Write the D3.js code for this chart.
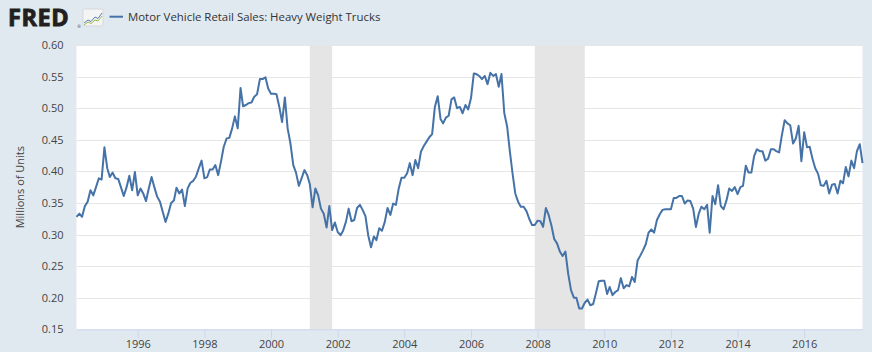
<!DOCTYPE html>
<html>
<head>
<meta charset="utf-8">
<script src="https://cdn.jsdelivr.net/npm/d3@7"></script>
<style>
  html, body { margin: 0; padding: 0; background: #e1e9f0; }
  svg { display: block; }
  text { font-family: "Open Sans", sans-serif; }
</style>
</head>
<body>
<script>
// ---- data ----
const seriesTitle = "Motor Vehicle Retail Sales: Heavy Weight Trucks";
const yAxisTitle = "Millions of Units";
const startMonth = "1994-03"; // first observation, monthly
const values = [
  0.328, 0.333, 0.328, 0.345, 0.352, 0.370, 0.362, 0.375, 0.389, 0.387,
  0.438, 0.405, 0.391, 0.398, 0.389, 0.388, 0.375, 0.361, 0.375, 0.393,
  0.370, 0.399, 0.362, 0.373, 0.365, 0.353, 0.373, 0.391, 0.375, 0.360,
  0.352, 0.336, 0.320, 0.333, 0.350, 0.354, 0.374, 0.365, 0.371, 0.345,
  0.373, 0.382, 0.385, 0.392, 0.405, 0.417, 0.389, 0.391, 0.403, 0.403,
  0.410, 0.394, 0.415, 0.439, 0.452, 0.453, 0.468, 0.487, 0.468, 0.532,
  0.503, 0.505, 0.508, 0.509, 0.518, 0.522, 0.546, 0.546, 0.549, 0.531,
  0.523, 0.523, 0.522, 0.502, 0.478, 0.517, 0.468, 0.444, 0.410, 0.398,
  0.377, 0.389, 0.402, 0.394, 0.380, 0.343, 0.373, 0.362, 0.341, 0.333,
  0.311, 0.345, 0.307, 0.319, 0.304, 0.299, 0.306, 0.320, 0.341, 0.321,
  0.323, 0.342, 0.347, 0.339, 0.329, 0.299, 0.280, 0.297, 0.291, 0.310,
  0.306, 0.320, 0.342, 0.331, 0.349, 0.347, 0.373, 0.390, 0.390, 0.397,
  0.413, 0.394, 0.418, 0.405, 0.431, 0.440, 0.447, 0.454, 0.459, 0.502,
  0.519, 0.483, 0.476, 0.485, 0.488, 0.514, 0.517, 0.500, 0.502, 0.492,
  0.505, 0.498, 0.516, 0.555, 0.554, 0.551, 0.546, 0.551, 0.538, 0.556,
  0.551, 0.554, 0.534, 0.554, 0.492, 0.471, 0.434, 0.397, 0.365, 0.352,
  0.344, 0.344, 0.337, 0.325, 0.315, 0.315, 0.322, 0.321, 0.312, 0.342,
  0.331, 0.314, 0.293, 0.286, 0.273, 0.266, 0.273, 0.238, 0.212, 0.200,
  0.200, 0.183, 0.183, 0.192, 0.197, 0.188, 0.190, 0.207, 0.226, 0.227,
  0.227, 0.206, 0.217, 0.204, 0.209, 0.212, 0.231, 0.215, 0.220, 0.218,
  0.233, 0.225, 0.259, 0.267, 0.275, 0.285, 0.303, 0.308, 0.303, 0.323,
  0.332, 0.339, 0.340, 0.340, 0.340, 0.358, 0.358, 0.361, 0.361, 0.349,
  0.354, 0.353, 0.341, 0.312, 0.333, 0.344, 0.340, 0.347, 0.303, 0.361,
  0.348, 0.378, 0.345, 0.340, 0.354, 0.373, 0.369, 0.375, 0.364, 0.375,
  0.377, 0.409, 0.398, 0.398, 0.424, 0.435, 0.432, 0.432, 0.417, 0.420,
  0.435, 0.435, 0.432, 0.430, 0.457, 0.481, 0.476, 0.473, 0.444, 0.452,
  0.472, 0.416, 0.462, 0.438, 0.439, 0.420, 0.405, 0.396, 0.378, 0.377,
  0.385, 0.365, 0.379, 0.380, 0.365, 0.385, 0.381, 0.407, 0.392, 0.417,
  0.405, 0.432, 0.443, 0.413
];
const recessionStarts = ["2001-03-01", "2007-12-01"];
const recessionEnds   = ["2001-11-01", "2009-06-01"];
const yTicks = [0.15, 0.20, 0.25, 0.30, 0.35, 0.40, 0.45, 0.50, 0.55, 0.60];
const xTickYears = [1996, 1998, 2000, 2002, 2004, 2006, 2008, 2010, 2012, 2014, 2016];

// ---- build ----
const W = 872, H = 352;
const plot = { left: 76.5, right: 862.5, top: 45, bottom: 329.3 };

const parseMonth = d3.timeParse("%Y-%m");
const parseDay = d3.timeParse("%Y-%m-%d");
const t0 = parseMonth(startMonth);
const data = values.map((v, i) => ({ date: d3.timeMonth.offset(t0, i), value: v }));

const x = d3.scaleTime()
  .domain([data[0].date, data[data.length - 1].date])
  .range([plot.left, plot.right]);
const y = d3.scaleLinear()
  .domain([0.15, 0.60])
  .range([plot.bottom, plot.top]);

const svg = d3.select("body").append("svg")
  .attr("width", W).attr("height", H);

svg.append("rect").attr("width", W).attr("height", H).attr("fill", "#e1e9f0");

// plot background
svg.append("rect")
  .attr("x", plot.left).attr("y", plot.top)
  .attr("width", plot.right - plot.left).attr("height", plot.bottom - plot.top)
  .attr("fill", "#ffffff");

// gridlines
svg.append("g").selectAll("line")
  .data(yTicks.filter(t => t > 0.15))
  .join("line")
  .attr("x1", plot.left).attr("x2", plot.right)
  .attr("y1", d => Math.round(y(d)) + 0.5).attr("y2", d => Math.round(y(d)) + 0.5)
  .attr("stroke", "#e6e6e6").attr("stroke-width", 1);

// recession bands
svg.append("g").selectAll("rect")
  .data(recessionStarts.map((s, i) => ({ s: parseDay(s), e: parseDay(recessionEnds[i]) })))
  .join("rect")
  .attr("x", d => x(d.s)).attr("width", d => x(d.e) - x(d.s))
  .attr("y", plot.top).attr("height", plot.bottom - plot.top)
  .attr("fill", "#e5e5e5");

// x axis
const xAxis = d3.axisBottom(x)
  .tickValues(xTickYears.map(yr => new Date(yr, 0, 1)))
  .tickFormat(d3.timeFormat("%Y"))
  .tickSize(9).tickPadding(2).tickSizeOuter(0);
const gx = svg.append("g")
  .attr("transform", `translate(0,${plot.bottom})`)
  .call(xAxis);
gx.select(".domain").attr("stroke", "#ccd6eb");
gx.selectAll(".tick line").attr("stroke", "#ccd6eb");
gx.selectAll(".tick text")
  .attr("fill", "#444").attr("font-size", "11px")
  .attr("font-family", "Open Sans, sans-serif");

// y axis labels
const yAxis = d3.axisLeft(y)
  .tickValues(yTicks)
  .tickFormat(d3.format(".2f"))
  .tickSize(0).tickPadding(13);
const gy = svg.append("g")
  .attr("transform", `translate(${plot.left},0)`)
  .call(yAxis);
gy.select(".domain").remove();
gy.selectAll(".tick text")
  .attr("fill", "#444").attr("font-size", "11px")
  .attr("font-family", "Open Sans, sans-serif");

// y axis title
svg.append("text")
  .attr("transform", `translate(24,${(plot.top + plot.bottom) / 2}) rotate(-90)`)
  .attr("text-anchor", "middle")
  .attr("fill", "#444").attr("font-size", "11px")
  .text(yAxisTitle);

// series line
const line = d3.line().x(d => x(d.date)).y(d => y(d.value));
svg.append("path")
  .datum(data)
  .attr("d", line)
  .attr("fill", "none")
  .attr("stroke", "#4572a7")
  .attr("stroke-width", 2)
  .attr("stroke-linejoin", "round");

// header: FRED logo
const logo = svg.append("g");
logo.append("text")
  .attr("x", 8).attr("y", 26)
  .attr("font-family", "Liberation Sans, Arial, sans-serif")
  .attr("font-weight", "bold").attr("font-size", "23.5px")
  .attr("letter-spacing", "0.6")
  .attr("fill", "#231f20")
  .style("stroke", "#231f20").style("stroke-width", "0.9px")
  .text("FRED");
logo.append("text")
  .attr("x", 77.5).attr("y", 28)
  .attr("font-size", "4px").attr("fill", "#231f20")
  .text("®");
// small chart icon
const icon = logo.append("g").attr("transform", "translate(83,9)");
icon.append("rect").attr("width", 20).attr("height", 17).attr("rx", 1.5)
  .attr("fill", "#f4f4f4").attr("stroke", "#c9c9c9").attr("stroke-width", 0.6);
icon.append("path").attr("d", "M1,14 L5,11 L8,12.5 L12,8 L15,9.5 L19,4")
  .attr("fill", "none").attr("stroke", "#4572a7").attr("stroke-width", 0.9);
icon.append("path").attr("d", "M1,16 L5,13 L8,14.5 L12,11 L15,12 L19,7")
  .attr("fill", "none").attr("stroke", "#8db33a").attr("stroke-width", 0.9);

// legend
svg.append("line")
  .attr("x1", 109.5).attr("x2", 123).attr("y1", 16.7).attr("y2", 16.7)
  .attr("stroke", "#4572a7").attr("stroke-width", 2);
svg.append("text")
  .attr("x", 128).attr("y", 20.8)
  .attr("fill", "#333").attr("font-size", "11.4px")
  .text(seriesTitle);
</script>
</body>
</html>
